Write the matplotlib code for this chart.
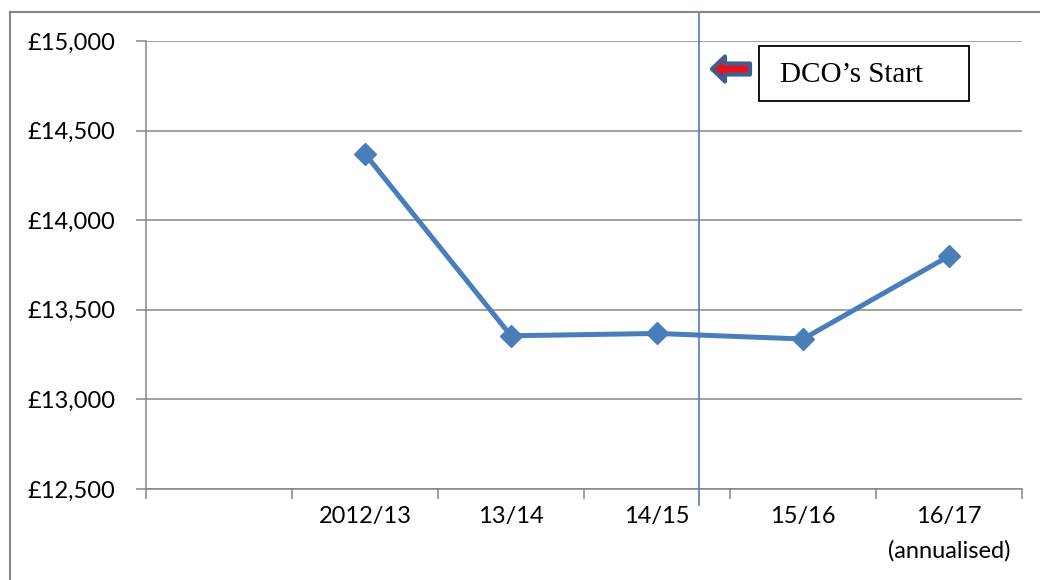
import numpy as np
import matplotlib.pyplot as plt
from matplotlib.patches import FancyArrow, Rectangle
from matplotlib.lines import Line2D

years = ["", "2012/13", "13/14", "14/15", "15/16", "16/17\n(annualised)"]
values = [np.nan, 14370, 13355, 13368, 13337, 13800]
y_ticks = [12500, 13000, 13500, 14000, 14500, 15000]
dco_start = 3.29

grey = "#868686"
blue = "#4a7ebb"

def main():
    plt.rcParams["font.family"] = ["Lato", "DejaVu Sans"]
    fig = plt.figure(figsize=(10.4, 5.8), dpi=100)
    ax = fig.add_axes([0.1404, 0.1569, 0.8423, 0.7724])

    x = np.arange(len(years))
    ax.plot(x, values, "-D", color=blue, lw=3.6, ms=11, zorder=3)

    ax.set_xlim(-0.5, len(years) - 0.5)
    ax.set_ylim(12500, 15000)
    ax.set_yticks(y_ticks)
    ax.set_yticklabels([f"£{v:,}" for v in y_ticks])
    ax.set_xticks(x)
    ax.set_xticklabels(years, linespacing=1.75)
    ax.set_xticks(np.arange(-0.5, len(years)), minor=True)
    ax.tick_params(axis="x", which="major", length=0, pad=12, labelsize=17)
    ax.tick_params(axis="x", which="minor", length=7, color=grey, width=1.1)
    ax.tick_params(axis="y", length=7, color=grey, width=1.1, pad=15, labelsize=17)
    ax.grid(axis="y", color=grey, lw=1.1)
    for s in ["top", "right"]:
        ax.spines[s].set_visible(False)
    for s in ["left", "bottom"]:
        ax.spines[s].set_color(grey)
        ax.spines[s].set_linewidth(1.1)

    # DCO start marker line
    ax.axvline(dco_start, ymin=-0.036, ymax=1.065, color=blue, lw=1.2, clip_on=False, zorder=4)

    # outer chart border (left and top)
    fig.add_artist(Line2D([10 / 1040, 10 / 1040], [0, 1 - 12 / 580], color=grey, lw=1.5))
    fig.add_artist(Line2D([10 / 1040, 1], [1 - 12 / 580, 1 - 12 / 580], color=grey, lw=1.5))

    # label box
    fig.add_artist(Rectangle((759 / 1040, 1 - 101 / 580), 210 / 1040, 55 / 580,
                             fill=False, ec="black", lw=1.3))
    fig.text(852 / 1040, 1 - 75 / 580, "DCO\u2019s Start", family="Liberation Serif",
             fontsize=21, ha="center", va="center")

    # small arrow pointing at the line
    fig.add_artist(FancyArrow(750 / 1040, 1 - 69 / 580, -38 / 1040, 0, width=11 / 580,
                              head_width=25 / 580, head_length=13 / 1040,
                              length_includes_head=True, fc="#e8101a", ec="#3d5f8f", lw=3,
                              joinstyle="round"))

    plt.savefig("out.png", dpi=100)

if __name__ == "__main__":
    main()
